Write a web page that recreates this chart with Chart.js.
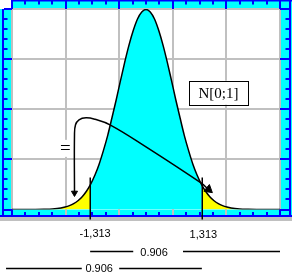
<!DOCTYPE html>
<html>
<head>
<meta charset="utf-8">
<script src="https://cdn.jsdelivr.net/npm/chart.js@4.4.1/dist/chart.umd.min.js"></script>
<style>
  html, body { margin: 0; padding: 0; background: #fff; overflow: hidden; }
  #wrap { width: 292px; height: 276px; }
</style>
</head>
<body>
<div id="wrap"><canvas id="chart" width="292" height="276"></canvas></div>
<script>
// curve (x in axis units, y in density units)
const curveX = [-3.15, -2.6, -2.4, -2.2, -2.0, -1.9, -1.8, -1.7, -1.6, -1.5, -1.4, -1.313,
  -1.2, -1.1, -1.0, -0.9, -0.8, -0.7, -0.6, -0.5, -0.4, -0.3, -0.2, -0.1, 0,
  0.1, 0.2, 0.3, 0.4, 0.5, 0.6, 0.7, 0.8, 0.9, 1.0, 1.1, 1.2, 1.313,
  1.4, 1.5, 1.6, 1.7, 1.8, 1.9, 2.0, 2.2, 2.4, 2.6, 3.15];
const curveY = [0, 0.0001, 0.0004, 0.0011, 0.003, 0.0049, 0.0077, 0.0117, 0.0175, 0.0256, 0.0365, 0.0486,
  0.0688, 0.091, 0.118, 0.148, 0.183, 0.219, 0.257, 0.294, 0.328, 0.357, 0.380, 0.394, 0.399,
  0.394, 0.380, 0.357, 0.328, 0.294, 0.257, 0.219, 0.183, 0.148, 0.118, 0.091, 0.0688, 0.0486,
  0.0365, 0.0256, 0.0175, 0.0117, 0.0077, 0.0049, 0.003, 0.0011, 0.0004, 0.0001, 0];

const cutLow = -1.313;
const cutHigh = 1.313;
const cutLabels = ["-1,313", "1,313"];
const cutLineTop = 0.064;

const xGrid = [-3.15, -1.89, -0.63, 0.63, 1.89, 3.15];
const yGrid = [0, 0.1, 0.2, 0.3, 0.4];

// the hooked arrow from the "=" sign to both tails
const arrowX = [-1.681, -1.681, -1.657, -1.575, -1.41, -1.199, -0.846, 0, 1.293, 1.47];
const arrowY = [0.033, 0.149, 0.169, 0.179, 0.183, 0.18, 0.169, 0.125, 0.053, 0.04];

// probability brackets under the axis
const probFrom = [-1.313, -3.29];
const probTo = [3.15, 1.313];
const probText = ["0.906", "0.906"];

const curveName = "N[0;1]";
const curveNameAt = { x: 1.704, y: 0.233 };
const equalsAt = { x: -1.897, y: 0.123 };

const CYAN = "#00ffff";
const YELLOW = "#ffff00";
const BLUE = "#0000ff";
const GRID = "#c0c0c0";

function points(filterFn) {
  return curveX
    .map((x, i) => ({ x, y: curveY[i] }))
    .filter((p) => filterFn(p.x));
}

function minorValues(grid, parts) {
  const out = [];
  for (let i = 0; i < grid.length - 1; i++) {
    const step = (grid[i + 1] - grid[i]) / parts;
    for (let k = 0; k < parts; k++) out.push({ v: grid[i] + step * k, major: k === 0 });
  }
  out.push({ v: grid[grid.length - 1], major: true });
  return out;
}

const framePlugin = {
  id: "frame",
  beforeDraw(chart) {
    const { ctx, chartArea: a, width } = chart;
    ctx.save();
    ctx.fillStyle = "#ffffff";
    ctx.fillRect(0, 0, width, chart.height);
    ctx.fillStyle = CYAN;
    ctx.fillRect(0, 0, width, 217);
    ctx.fillStyle = "#ffffff";
    ctx.fillRect(0, 0, a.left, a.top);
    ctx.fillRect(a.left, a.top, a.right - a.left, a.bottom - a.top);
    ctx.restore();
  },
  afterDraw(chart) {
    const { ctx, chartArea: a, width } = chart;
    const xs = chart.scales.x;
    const ys = chart.scales.y;
    ctx.save();

    // outer blue lines
    ctx.fillStyle = BLUE;
    ctx.fillRect(a.left, 0, width - a.left, 1.5);
    ctx.fillRect(2, a.top, 2, 217 - a.top);
    ctx.fillRect(289, 0, 2, 217);
    ctx.fillRect(0, 215, width, 2);

    // ticks along x (top and bottom strips)
    minorValues(xGrid, 4).forEach((t, i, arr) => {
      const px = Math.round(xs.getPixelForValue(t.v)) - 1;
      const isEnd = i === 0 || i === arr.length - 1;
      ctx.fillStyle = BLUE;
      ctx.fillRect(px, 0, 2, t.major ? a.top : 4.5);
      if (t.major && !isEnd) {
        ctx.fillStyle = GRID;
        ctx.fillRect(px, a.bottom, 2, 215 - a.bottom);
      } else {
        ctx.fillStyle = BLUE;
        ctx.fillRect(px, t.major ? a.bottom : 212, 2, t.major ? 215 - a.bottom : 3);
      }
    });

    // ticks along y (left and right strips)
    minorValues(yGrid, 5).forEach((t) => {
      const py = Math.round(ys.getPixelForValue(t.v)) - 1;
      ctx.fillStyle = BLUE;
      ctx.fillRect(4, py, t.major ? a.left - 4 : 3.5, 2);
      ctx.fillRect(t.major ? a.right : 285.5, py, t.major ? 289 - a.right : 3.5, 2);
    });

    // grey band under the frame
    ctx.fillStyle = GRID;
    ctx.fillRect(0, 217, width, 4);

    // cut lines and their labels
    ctx.strokeStyle = "#000";
    ctx.lineWidth = 1.5;
    [cutLow, cutHigh].forEach((v) => {
      const px = Math.round(xs.getPixelForValue(v)) + 0.25;
      ctx.beginPath();
      ctx.moveTo(px, ys.getPixelForValue(cutLineTop));
      ctx.lineTo(px, 219.5);
      ctx.stroke();
    });
    ctx.fillStyle = "#000";
    ctx.font = "11px 'Liberation Sans', Arial, sans-serif";
    ctx.textAlign = "center";
    ctx.textBaseline = "alphabetic";
    ctx.fillText(cutLabels[0], xs.getPixelForValue(cutLow) + 5, 237);
    ctx.fillText(cutLabels[1], xs.getPixelForValue(cutHigh) + 1.5, 238);

    // probability brackets
    const rows = [
      { y: 251.5, base: 255.5, gapFrom: -0.3, gapTo: 0.87, text: 0.19 },
      { y: 268.5, base: 272.3, gapFrom: -1.51, gapTo: -0.63, text: -1.1 },
    ];
    ctx.lineWidth = 1.5;
    rows.forEach((r, i) => {
      ctx.beginPath();
      ctx.moveTo(xs.getPixelForValue(probFrom[i]), r.y);
      ctx.lineTo(xs.getPixelForValue(r.gapFrom), r.y);
      ctx.moveTo(xs.getPixelForValue(r.gapTo), r.y);
      ctx.lineTo(xs.getPixelForValue(probTo[i]), r.y);
      ctx.stroke();
      ctx.fillText(probText[i], xs.getPixelForValue(r.text), r.base);
    });

    // "=" sign with white backing
    const ex = xs.getPixelForValue(equalsAt.x);
    const ey = ys.getPixelForValue(equalsAt.y);
    ctx.fillStyle = "#fff";
    ctx.fillRect(ex - 7, ey - 8, 14, 17);
    ctx.fillStyle = "#000";
    ctx.font = "19px 'Liberation Serif', 'Times New Roman', serif";
    ctx.textBaseline = "middle";
    ctx.fillText("=", ex, ey + 1);

    // boxed distribution name
    const nx = xs.getPixelForValue(curveNameAt.x);
    const ny = ys.getPixelForValue(curveNameAt.y);
    ctx.fillStyle = "#fff";
    ctx.fillRect(nx - 29.5, ny - 12, 59, 24);
    ctx.lineWidth = 1;
    ctx.strokeRect(Math.round(nx - 29.5) + 0.5, Math.round(ny - 12) + 0.5, 59, 24);
    ctx.fillStyle = "#000";
    ctx.font = "15px 'Liberation Serif', 'Times New Roman', serif";
    ctx.textBaseline = "alphabetic";
    ctx.fillText(curveName, nx, ny + 5);

    ctx.restore();
  },
};

const gridColor = (ctx) => (ctx.tick && ctx.tick.value === 0 && ctx.scale.axis === "y" ? "rgba(0,0,0,0)" : GRID);

new Chart(document.getElementById("chart"), {
  type: "line",
  data: {
    datasets: [
      {
        data: arrowX.map((x, i) => ({ x, y: arrowY[i] })),
        borderColor: "#000",
        borderWidth: 1.5,
        tension: 0.4,
        fill: false,
        pointStyle: "triangle",
        pointRadius: arrowX.map((_, i) => (i === 0 ? 3.5 : i === arrowX.length - 1 ? 5 : 0)),
        pointRotation: arrowX.map((_, i) => (i === 0 ? 180 : 130)),
        pointBackgroundColor: "#000",
        pointBorderColor: "#000",
        pointBorderWidth: 1,
        order: 0,
      },
      {
        data: points(() => true),
        borderColor: "#000",
        borderWidth: 1.5,
        cubicInterpolationMode: "monotone",
        pointRadius: 0,
        fill: false,
        order: 1,
      },
      {
        data: points((x) => x >= cutLow && x <= cutHigh),
        borderWidth: 0,
        cubicInterpolationMode: "monotone",
        pointRadius: 0,
        backgroundColor: CYAN,
        fill: "origin",
        order: 2,
      },
      {
        data: points((x) => x <= cutLow),
        borderWidth: 0,
        cubicInterpolationMode: "monotone",
        pointRadius: 0,
        backgroundColor: YELLOW,
        fill: "origin",
        order: 2,
      },
      {
        data: points((x) => x >= cutHigh),
        borderWidth: 0,
        cubicInterpolationMode: "monotone",
        pointRadius: 0,
        backgroundColor: YELLOW,
        fill: "origin",
        order: 2,
      },
    ],
  },
  options: {
    responsive: false,
    animation: false,
    devicePixelRatio: 1,
    layout: { padding: { left: 12, top: 9, right: 12, bottom: 66.5 } },
    plugins: { legend: { display: false }, tooltip: { enabled: false } },
    scales: {
      x: {
        type: "linear",
        min: -3.15,
        max: 3.15,
        z: 1,
        ticks: { display: false },
        border: { display: false },
        grid: { color: gridColor, lineWidth: 2, drawTicks: false },
        afterBuildTicks: (s) => { s.ticks = xGrid.map((v) => ({ value: v })); },
      },
      y: {
        min: 0,
        max: 0.4,
        z: 1,
        ticks: { display: false },
        border: { display: false },
        grid: { color: gridColor, lineWidth: 2, drawTicks: false },
        afterBuildTicks: (s) => { s.ticks = yGrid.map((v) => ({ value: v })); },
      },
    },
  },
  plugins: [framePlugin],
});
</script>
</body>
</html>
